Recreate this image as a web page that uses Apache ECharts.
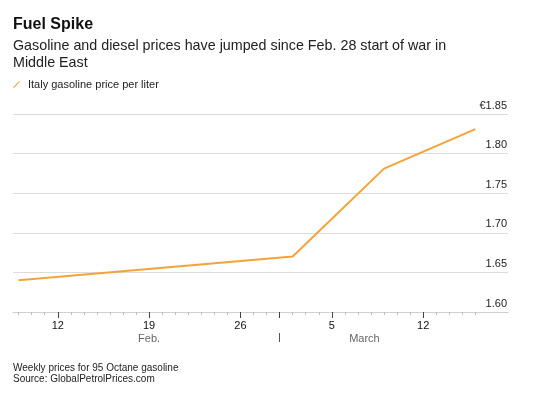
<!DOCTYPE html>
<html>
<head>
<meta charset="utf-8">
<script src="https://cdn.jsdelivr.net/npm/echarts@6/dist/echarts.min.js"></script>
<style>
html,body{margin:0;padding:0;background:#fff;}
#chart{width:541px;height:395px;}
</style>
</head>
<body>
<div id="chart"></div>
<script>
// ---- data ----
var dates = ['2026-02-09', '2026-03-02', '2026-03-09', '2026-03-16'];
var prices = [1.640, 1.670, 1.781, 1.831];
var seriesName = 'Italy gasoline price per liter';
var dayTickDates = ['2026-02-12', '2026-02-19', '2026-02-26', '2026-03-05', '2026-03-12'];
var monthBoundary = '2026-03-01';
var monthNames = ['Feb.', 'March'];
var monthLabelDays = [18, 34.5];
var yTicks = [1.60, 1.65, 1.70, 1.75, 1.80, 1.85];

// ---- helpers ----
var base = Date.UTC(2026, 1, 1);
function dayIdx(s) {
  var p = s.split('-');
  return (Date.UTC(+p[0], +p[1] - 1, +p[2]) - base) / 86400000;
}
var xs = dates.map(dayIdx);
var seriesData = xs.map(function (x, i) { return [x, prices[i]]; });
var majorDays = dayTickDates.map(dayIdx);
var boundaryDay = dayIdx(monthBoundary);
var minorDays = [];
for (var d = xs[0]; d <= xs[xs.length - 1]; d++) minorDays.push(d);
var dayLabelMap = {};
dayTickDates.forEach(function (s) { dayLabelMap[dayIdx(s)] = String(+s.split('-')[2]); });
var monthLabelMap = {};
monthLabelDays.forEach(function (d, i) { monthLabelMap[d] = monthNames[i]; });

var XMIN = 7.57, XMAX = 45.5;
var FONT = '"Liberation Sans", Arial, sans-serif';

var chart = echarts.init(document.getElementById('chart'), null, {renderer: 'canvas'});
var baseX = {
  type: 'value', min: XMIN, max: XMAX, gridIndex: 0, position: 'bottom',
  splitLine: {show: false}
};
chart.setOption({
  animation: false,
  backgroundColor: '#fff',
  title: [{
    text: 'Fuel Spike', left: 13, top: 17, padding: 0,
    textStyle: {fontFamily: FONT, fontSize: 16, fontWeight: 'bold', color: '#111'}
  }, {
    text: 'Gasoline and diesel prices have jumped since Feb. 28 start of war in\nMiddle East',
    left: 13, top: 37, padding: 0,
    textStyle: {fontFamily: FONT, fontSize: 14.3, fontWeight: 'normal', color: '#222', lineHeight: 17.5}
  }, {
    text: 'Weekly prices for 95 Octane gasoline\nSource: GlobalPetrolPrices.com',
    left: 13, top: 362, padding: 0,
    textStyle: {fontFamily: FONT, fontSize: 10, fontWeight: 'normal', color: '#222', lineHeight: 11.5}
  }],
  legend: {
    left: 13, top: 79, padding: 0, itemWidth: 7, itemHeight: 7, itemGap: 10,
    icon: 'path://M0,9 L9,0 L10,1.2 L1.2,10 Z',
    data: [seriesName],
    textStyle: {fontFamily: FONT, fontSize: 11, color: '#222', padding: [0, 0, 0, 3]}
  },
  grid: {left: 13, right: 33, top: 114, bottom: 83},
  xAxis: [
    Object.assign({}, baseX, {
      axisLine: {show: true, lineStyle: {color: '#cfcfcf', width: 1}},
      axisTick: {show: true, customValues: minorDays, length: 3, lineStyle: {color: '#bdbdbd'}},
      axisLabel: {show: false}
    }),
    Object.assign({}, baseX, {
      axisLine: {show: false},
      axisTick: {show: true, customValues: majorDays.concat([boundaryDay]), length: 6, lineStyle: {color: '#444'}},
      axisLabel: {
        show: true, customValues: majorDays, margin: 8,
        fontFamily: FONT, fontSize: 11, color: '#111',
        formatter: function (v) { return dayLabelMap[v] || ''; }
      }
    }),
    Object.assign({}, baseX, {
      offset: 21,
      axisLine: {show: false},
      axisTick: {show: true, customValues: [boundaryDay], length: 9, lineStyle: {color: '#555'}},
      axisLabel: {
        show: true, customValues: monthLabelDays, margin: 0,
        fontFamily: FONT, fontSize: 11, color: '#666',
        formatter: function (v) { return monthLabelMap[v] || ''; }
      }
    })
  ],
  yAxis: {
    type: 'value', min: yTicks[0], max: yTicks[yTicks.length - 1], interval: 0.05,
    position: 'right',
    axisLine: {show: false}, axisTick: {show: false},
    splitLine: {show: true, lineStyle: {color: '#dcdcdc', width: 1}},
    axisLabel: {
      inside: true, margin: 1, verticalAlign: 'bottom', padding: [0, 0, 3, 0],
      fontFamily: FONT, fontSize: 11, color: '#222',
      formatter: function (v) {
        var s = v.toFixed(2);
        return Math.abs(v - yTicks[yTicks.length - 1]) < 1e-9 ? '€' + s : s;
      }
    }
  },
  series: [{
    name: seriesName, type: 'line', data: seriesData, xAxisIndex: 0,
    symbol: 'none', color: '#f4a23b',
    lineStyle: {color: '#f4a23b', width: 2}
  }]
});
</script>
</body>
</html>
